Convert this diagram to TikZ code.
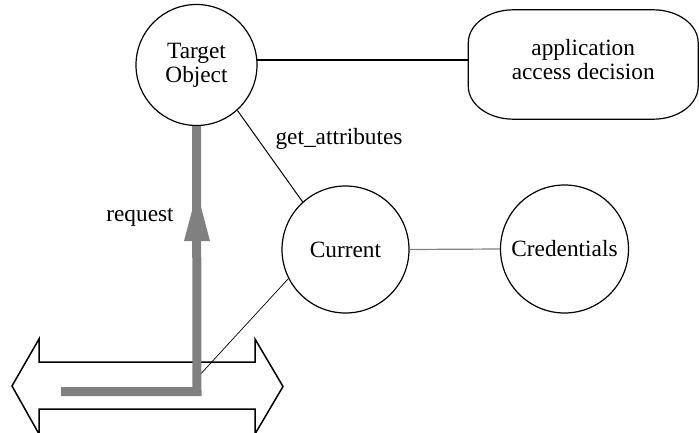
\documentclass[tikz,border=0pt]{standalone}
\usepackage{fontspec}
\setmainfont{Liberation Serif}
\begin{document}
\begin{tikzpicture}[x=1pt,y=-1pt,
  every node/.style={font=\fontsize{23.3}{24}\selectfont},
  circ/.style={draw,circle,line width=1.2pt,inner sep=0pt},
  barstyle/.style={draw=barcol,line width=9pt,line join=miter,line cap=butt},
  thinline/.style={line width=1pt}]
\definecolor{barcol}{HTML}{808080}
\useasboundingbox (0,0) rectangle (699,433);
% nodes
\node[circ,minimum size=121pt,align=center] (t) at (196.5,65) {Target\\[0pt]Object};
\node[inner sep=0pt,minimum width=229.5pt,minimum height=109pt,align=center,text depth=10pt]
      (app) at (583.25,64.5)
      {\fontsize{23.3}{27}\selectfont application\\access decision};
\draw[line width=1.2pt] ([xshift=45pt]app.north west) -- ([xshift=-45pt]app.north east)
  arc[start angle=90,end angle=0,x radius=45pt,y radius=33pt]
  -- ([yshift=33pt]app.south east)
  arc[start angle=0,end angle=-90,x radius=45pt,y radius=33pt]
  -- ([xshift=45pt]app.south west)
  arc[start angle=-90,end angle=-180,x radius=45pt,y radius=33pt]
  -- ([yshift=-33pt]app.north west)
  arc[start angle=180,end angle=90,x radius=45pt,y radius=33pt] -- cycle;
\node[circ,minimum size=127pt] (cur) at (345.5,249.5) {Current};
\node[circ,minimum size=128pt] (cred) at (564.5,249) {Credentials};
\node[anchor=base] (ga) at (339,145) {get\_attributes};
\node[anchor=base] (rq) at (140,222) {request};
% double arrow
\draw[line width=1.5pt,line join=miter] (12,386) -- (39,339) -- (39,362) -- (255,362) -- (255,339)
  -- (283,386.5) -- (255,434) -- (255,409) -- (39,409) -- (39,434) -- cycle;
% connectors
\draw[line width=2pt] (t.5) -- (app.west |- t.5);
\draw[thinline] (t.-48) -- (cur.132);
\draw[draw=barcol,line width=1.2pt] (cur.east) -- (cred.west);
\coordinate (hs) at (61,391.5);
\coordinate (corner) at (197,391.5);
\coordinate (ll) at (197,378);
\draw[line width=0.7pt] (cur.207) -- (ll);
\draw[barstyle] (hs) -- (corner) -- (t.south);
\coordinate (ah) at (197,241);
\fill[barcol] (ah) ++(-13,0) -- ++(26,0) -- ++(-13,-49) -- cycle;
\end{tikzpicture}
\end{document}
